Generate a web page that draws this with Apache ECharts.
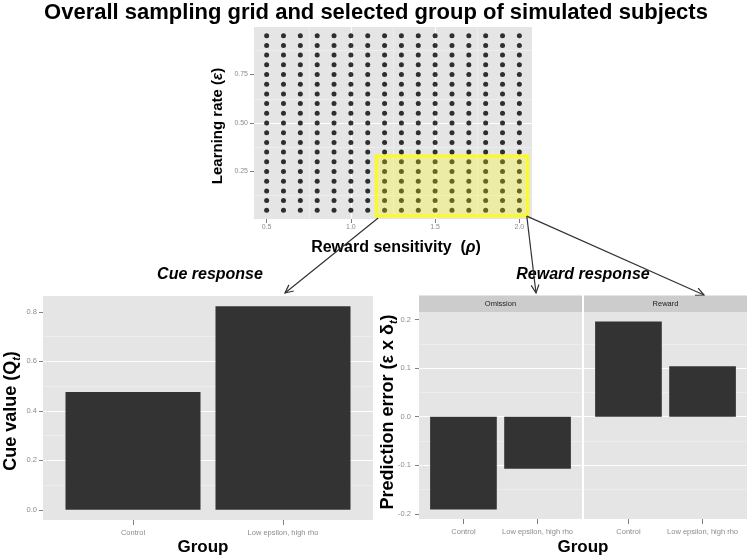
<!DOCTYPE html>
<html><head><meta charset="utf-8">
<script src="https://cdn.jsdelivr.net/npm/echarts@6/dist/echarts.min.js"></script>
<style>html,body{margin:0;padding:0;background:#fff}#c{width:750px;height:559px}</style>
</head><body><div id="c"></div>
<script>
// ---------- data ----------
const rhoValues = [0.5,0.6,0.7,0.8,0.9,1.0,1.1,1.2,1.3,1.4,1.5,1.6,1.7,1.8,1.9,2.0];
const epsValues = [0.05,0.10,0.15,0.20,0.25,0.30,0.35,0.40,0.45,0.50,0.55,0.60,0.65,0.70,0.75,0.80,0.85,0.90,0.95];
const selectedRho = [1.15, 2.05];
const selectedEps = [0.02, 0.33];
const rhoTicks = [0.5, 1.0, 1.5, 2.0];
const epsTicks = [0.25, 0.50, 0.75];
const groups = ['Control', 'Low epsilon, high rho'];
const groupPos = [1, 2];
const cueValues = [0.476, 0.823];
const cueTicks = [0.0, 0.2, 0.4, 0.6, 0.8];
const facets = ['Omission', 'Reward'];
const peOmission = [-0.191, -0.107];
const peReward = [0.196, 0.104];
const peTicks = [-0.2, -0.1, 0.0, 0.1, 0.2];

// ---------- helpers ----------
const FONT = 'Liberation Sans';
function expand(a, b) { const d = (b - a) * 0.05; return [a - d, b + d]; }
const discreteRange = [0.4, 2.6];
const G0 = {left:254, top:27, width:278, height:192};
const G1 = {left:43, top:296, width:330, height:224};
const G2 = {left:419, top:312, width:163, height:207};
const G3 = {left:584, top:312, width:163, height:207};

function vAxis(o) {
  return {
    type:'value', gridIndex:o.grid, position:o.pos, min:o.range[0], max:o.range[1],
    minInterval:o.step, maxInterval:o.step,
    axisLine:{show:false, onZero:false},
    axisTick:{show:o.ticks !== false, length:o.tickLen || 4, lineStyle:{color:'#7f7f7f', width:1}, customValues:o.tickValues},
    axisLabel:{show:o.labels !== false, customValues:o.tickValues, formatter:o.fmt, color:'#8c8c8c',
      fontSize:o.fs || 7, margin:o.margin || 5, fontFamily:FONT},
    splitLine:{show:true, showMinLine:false, showMaxLine:false, lineStyle:{color:'#ffffff', width:1.2}},
    minorTick:{show:false, splitNumber:2},
    minorSplitLine:{show:o.minor !== false, lineStyle:{color:'#f2f2f2', width:0.6}}
  };
}
const gridPoints = [];
rhoValues.forEach(r => epsValues.forEach(e => gridPoints.push([r, e])));
const grpFmt = v => groups[Math.round(v) - 1] || '';
const cueRange = expand(Math.min(0, ...cueValues), Math.max(0, ...cueValues));
const peAll = peOmission.concat(peReward);
const peRange = expand(Math.min(...peAll), Math.max(...peAll));

const chart = echarts.init(document.getElementById('c'), null, {renderer:'canvas'});
const gridBase = {show:true, backgroundColor:'#e5e5e5', borderWidth:0, containLabel:false};
chart.setOption({
  animation:false,
  grid:[Object.assign({}, gridBase, G0), Object.assign({}, gridBase, G1),
        Object.assign({}, gridBase, G2), Object.assign({}, gridBase, G3)],
  xAxis:[
    vAxis({grid:0, pos:'bottom', range:expand(rhoValues[0], rhoValues[rhoValues.length-1]), step:0.5, tickValues:rhoTicks, fmt:v => v.toFixed(1), margin:5, fs:7}),
    vAxis({grid:1, pos:'bottom', range:discreteRange, step:1, tickValues:groupPos, fmt:grpFmt, minor:false, margin:9, fs:7.5, tickLen:5}),
    vAxis({grid:2, pos:'bottom', range:discreteRange, step:1, tickValues:groupPos, fmt:grpFmt, minor:false, margin:9, fs:7.5, tickLen:5}),
    vAxis({grid:3, pos:'bottom', range:discreteRange, step:1, tickValues:groupPos, fmt:grpFmt, minor:false, margin:9, fs:7.5, tickLen:5})
  ],
  yAxis:[
    vAxis({grid:0, pos:'left', range:expand(epsValues[0], epsValues[epsValues.length-1]), step:0.25, tickValues:epsTicks, fmt:v => v.toFixed(2), margin:6, fs:7}),
    vAxis({grid:1, pos:'left', range:cueRange, step:0.2, tickValues:cueTicks, fmt:v => v.toFixed(1), margin:6, fs:7.5}),
    vAxis({grid:2, pos:'left', range:peRange, step:0.1, tickValues:peTicks, fmt:v => v.toFixed(1), margin:8, fs:7.5}),
    vAxis({grid:3, pos:'left', range:peRange, step:0.1, tickValues:peTicks, labels:false, ticks:false})
  ],
  series:[
    {type:'scatter', xAxisIndex:0, yAxisIndex:0, data:gridPoints, symbolSize:5,
     itemStyle:{color:'#000'}, z:2, silent:true},
    {type:'custom', xAxisIndex:0, yAxisIndex:0, z:3, silent:true,
     data:[[selectedRho[0], selectedEps[0], selectedRho[1], selectedEps[1]]],
     encode:{x:[0,2], y:[1,3]},
     renderItem:(params, api) => {
       const p0 = api.coord([api.value(0), api.value(1)]);
       const p1 = api.coord([api.value(2), api.value(3)]);
       return {type:'rect', shape:{x:p0[0], y:p1[1], width:p1[0]-p0[0], height:p0[1]-p1[1]},
         style:{fill:'rgba(255,255,0,0.27)', stroke:'#ffff00', lineWidth:2.5}};
     }},
    {type:'bar', xAxisIndex:1, yAxisIndex:1, data:groupPos.map((x,i) => [x, cueValues[i]]),
     barWidth:G1.width / (discreteRange[1]-discreteRange[0]) * 0.9, itemStyle:{color:'#333333'}, silent:true},
    {type:'bar', xAxisIndex:2, yAxisIndex:2, data:groupPos.map((x,i) => [x, peOmission[i]]),
     barWidth:G2.width / (discreteRange[1]-discreteRange[0]) * 0.9, itemStyle:{color:'#333333'}, silent:true},
    {type:'bar', xAxisIndex:3, yAxisIndex:3, data:groupPos.map((x,i) => [x, peReward[i]]),
     barWidth:G3.width / (discreteRange[1]-discreteRange[0]) * 0.9, itemStyle:{color:'#333333'}, silent:true}
  ]
});

// ---------- annotations ----------
function arrow(p, q) {
  const ang = Math.atan2(q[1]-p[1], q[0]-p[0]), L = 9, a = Math.PI / 7;
  return [
    {type:'line', shape:{x1:p[0], y1:p[1], x2:q[0], y2:q[1]}, style:{stroke:'#333', lineWidth:1.2}, z:50},
    {type:'polyline', shape:{points:[[q[0]-L*Math.cos(ang-a), q[1]-L*Math.sin(ang-a)], q,
      [q[0]-L*Math.cos(ang+a), q[1]-L*Math.sin(ang+a)]]}, style:{stroke:'#333', lineWidth:1.2, fill:null}, z:50}
  ];
}
const cBL = chart.convertToPixel({xAxisIndex:0, yAxisIndex:0}, [selectedRho[0], selectedEps[0]]);
const cBR = chart.convertToPixel({xAxisIndex:0, yAxisIndex:0}, [selectedRho[1], selectedEps[0]]);
const boldT = (fs) => ({fontFamily:FONT, fontWeight:'bold', fontSize:fs, fill:'#000'});
const stripH = 16.5;
function strip(g, label) {
  return [
    {type:'rect', shape:{x:g.left, y:g.top - stripH, width:g.width, height:stripH}, style:{fill:'#cccccc'}, z:10},
    {type:'text', x:g.left + g.width/2, y:g.top - stripH/2, z:11,
     style:{text:label, fontFamily:FONT, fontSize:7.5, fill:'#1a1a1a', align:'center', verticalAlign:'middle'}}
  ];
}
const richBase = (fs) => ({
  b:{fontFamily:FONT, fontWeight:'bold', fontSize:fs, lineHeight:fs+4, fill:'#000'},
  i:{fontFamily:FONT, fontWeight:'bold', fontStyle:'italic', fontSize:fs, lineHeight:fs+4, fill:'#000'},
  s:{fontFamily:FONT, fontWeight:'bold', fontStyle:'italic', fontSize:Math.round(fs*0.6), lineHeight:fs+4, verticalAlign:'bottom', fill:'#000'}
});
const texts = [
  {type:'text', x:376, y:13, style:Object.assign(boldT(22), {text:'Overall sampling grid and selected group of simulated subjects', align:'center', verticalAlign:'middle'})},
  {type:'text', x:218, y:126, rotation:Math.PI/2,
   style:{text:'{b|Learning rate (}{i|ε}{b|)}', rich:richBase(15), align:'center', verticalAlign:'middle'}},
  {type:'text', x:396, y:248,
   style:{text:'{b|Reward sensitivity  (}{i|ρ}{b|)}', rich:richBase(16), align:'center', verticalAlign:'middle'}},
  {type:'text', x:210, y:275, style:{text:'Cue response', fontFamily:FONT, fontWeight:'bold', fontStyle:'italic', fontSize:16, fill:'#000', align:'center', verticalAlign:'middle'}},
  {type:'text', x:583, y:275, style:{text:'Reward response', fontFamily:FONT, fontWeight:'bold', fontStyle:'italic', fontSize:16, fill:'#000', align:'center', verticalAlign:'middle'}},
  {type:'text', x:11, y:411, rotation:Math.PI/2,
   style:{text:'{b|Cue value (Q}{s|t}{b|)}', rich:richBase(18), align:'center', verticalAlign:'middle'}},
  {type:'text', x:388, y:412, rotation:Math.PI/2,
   style:{text:'{b|Prediction error (ε x δ}{s|t}{b|)}', rich:richBase(18), align:'center', verticalAlign:'middle'}},
  {type:'text', x:203, y:547, style:Object.assign(boldT(17), {text:'Group', align:'center', verticalAlign:'middle'})},
  {type:'text', x:583, y:547, style:Object.assign(boldT(17), {text:'Group', align:'center', verticalAlign:'middle'})}
];
chart.setOption({
  graphic:[].concat(
    strip(G2, facets[0]), strip(G3, facets[1]), texts,
    arrow([cBL[0]+2, cBL[1]+2], [285, 293]),
    arrow([cBR[0]-1, cBR[1]], [536, 293]),
    arrow([cBR[0]-1, cBR[1]], [704, 295])
  )
});
</script></body></html>
